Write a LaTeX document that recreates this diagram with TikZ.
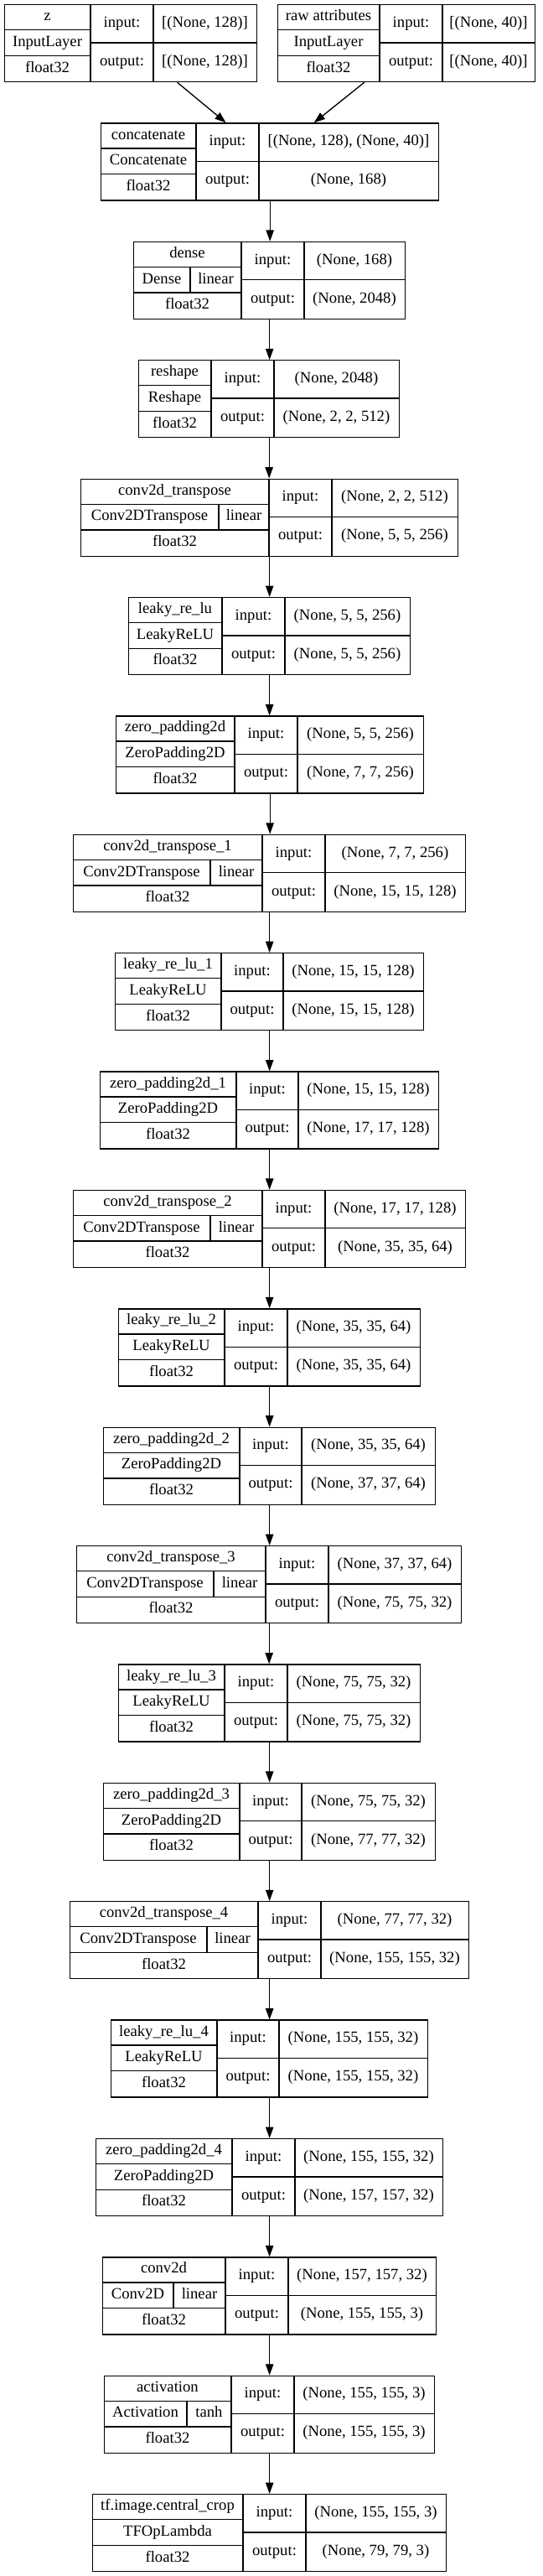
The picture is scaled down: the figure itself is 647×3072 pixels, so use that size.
\documentclass[tikz,border=0pt]{standalone}
\usepackage{fontspec}
\setmainfont{Liberation Serif}
\usetikzlibrary{arrows.meta,calc}

\tikzstyle{layer} = [draw,rectangle,anchor=north west,minimum height=69pt,inner sep=0pt,line width=1pt]
\tikzstyle{cell line} = [draw,line width=1pt]
\tikzstyle{cell text} = [inner sep=0pt,text height=9.5pt,text depth=3pt]
\tikzstyle{edge} = [draw,line width=1pt,-{Triangle[length=10pt,width=7pt]}]

\begin{document}
\begin{tikzpicture}[x=0.75pt,y=-0.75pt,font=\fontsize{14}{16}\selectfont]
  \useasboundingbox (0,0) rectangle (647,3072);
  \fill[white] (0,0) rectangle (647,3072);

  % First we draw the plain layers: name / class / dtype
  \foreach \row/\nm/\xa/\xb/\xc/\xd/\ttl/\cls/\inp/\outp in {
    1/z/5/108/183/306/z/InputLayer/{[(None, 128)]}/{[(None, 128)]},
    1/raw/331/453/528/638/raw attributes/InputLayer/{[(None, 40)]}/{[(None, 40)]},
    2/concat/120/234/309/523/concatenate/Concatenate/{[(None, 128), (None, 40)]}/{(None, 168)},
    4/reshape/165/252/327/476/reshape/Reshape/{(None, 2048)}/{(None, 2, 2, 512)},
    6/lrelu0/153/265/340/489/leaky\_re\_lu/LeakyReLU/{(None, 5, 5, 256)}/{(None, 5, 5, 256)},
    7/zpad0/138/280/355/505/zero\_padding2d/ZeroPadding2D/{(None, 5, 5, 256)}/{(None, 7, 7, 256)},
    9/lrelu1/137/264/338/505/leaky\_re\_lu\_1/LeakyReLU/{(None, 15, 15, 128)}/{(None, 15, 15, 128)},
    10/zpad1/119/282/356/523/zero\_padding2d\_1/ZeroPadding2D/{(None, 15, 15, 128)}/{(None, 17, 17, 128)},
    12/lrelu2/141/268/343/501/leaky\_re\_lu\_2/LeakyReLU/{(None, 35, 35, 64)}/{(None, 35, 35, 64)},
    13/zpad2/123/286/360/519/zero\_padding2d\_2/ZeroPadding2D/{(None, 35, 35, 64)}/{(None, 37, 37, 64)},
    15/lrelu3/141/268/343/501/leaky\_re\_lu\_3/LeakyReLU/{(None, 75, 75, 32)}/{(None, 75, 75, 32)},
    16/zpad3/123/286/360/519/zero\_padding2d\_3/ZeroPadding2D/{(None, 75, 75, 32)}/{(None, 77, 77, 32)},
    18/lrelu4/132/259/333/510/leaky\_re\_lu\_4/LeakyReLU/{(None, 155, 155, 32)}/{(None, 155, 155, 32)},
    19/zpad4/114/277/352/528/zero\_padding2d\_4/ZeroPadding2D/{(None, 155, 155, 32)}/{(None, 157, 157, 32)},
    22/crop/110/290/365/532/tf.image.central\_crop/TFOpLambda/{(None, 155, 155, 3)}/{(None, 79, 79, 3)}}
  {
    \pgfmathsetmacro\ytop{5+(\row-1)*141.38}
    \node[layer,minimum width={(\xd-\xa)*0.75pt}] (\nm) at (\xa,\ytop) {};
    \path[cell line] (\xb,\ytop) -- ++(0,92) (\xc,\ytop) -- ++(0,92)
      (\xa,\ytop+30.67) -- (\xb,\ytop+30.67) (\xa,\ytop+61.33) -- (\xb,\ytop+61.33)
      (\xb,\ytop+46) -- (\xd,\ytop+46);
    \node[cell text] (\nm-name) at ({(\xa+\xb)/2},\ytop+15.33) {\ttl};
    \node[cell text] (\nm-cls) at ({(\xa+\xb)/2},\ytop+46) {\cls};
    \node[cell text] (\nm-dt) at ({(\xa+\xb)/2},\ytop+76.67) {float32};
    \node[cell text] (\nm-in) at ({(\xb+\xc)/2},\ytop+23) {input:};
    \node[cell text] (\nm-inv) at ({(\xc+\xd)/2},\ytop+23) {\inp};
    \node[cell text] (\nm-out) at ({(\xb+\xc)/2},\ytop+69) {output:};
    \node[cell text] (\nm-outv) at ({(\xc+\xd)/2},\ytop+69) {\outp};
  }

  % Then the layers that also carry an activation
  \foreach \row/\nm/\xa/\xs/\xb/\xc/\xd/\ttl/\cls/\act/\inp/\outp in {
    3/dense/159/227/288/363/483/dense/Dense/linear/{(None, 168)}/{(None, 2048)},
    5/convt0/96/261/321/396/546/conv2d\_transpose/Conv2DTranspose/linear/{(None, 2, 2, 512)}/{(None, 5, 5, 256)},
    8/convt1/87/251/313/388/555/conv2d\_transpose\_1/Conv2DTranspose/linear/{(None, 7, 7, 256)}/{(None, 15, 15, 128)},
    11/convt2/87/251/313/388/555/conv2d\_transpose\_2/Conv2DTranspose/linear/{(None, 17, 17, 128)}/{(None, 35, 35, 64)},
    14/convt3/91/255/317/392/550/conv2d\_transpose\_3/Conv2DTranspose/linear/{(None, 37, 37, 64)}/{(None, 75, 75, 32)},
    17/convt4/83/247/308/383/559/conv2d\_transpose\_4/Conv2DTranspose/linear/{(None, 77, 77, 32)}/{(None, 155, 155, 32)},
    20/conv/122/207/269/344/520/conv2d/Conv2D/linear/{(None, 157, 157, 32)}/{(None, 155, 155, 3)},
    21/act/124/223/276/351/518/activation/Activation/tanh/{(None, 155, 155, 3)}/{(None, 155, 155, 3)}}
  {
    \pgfmathsetmacro\ytop{5+(\row-1)*141.38}
    \node[layer,minimum width={(\xd-\xa)*0.75pt}] (\nm) at (\xa,\ytop) {};
    \path[cell line] (\xb,\ytop) -- ++(0,92) (\xc,\ytop) -- ++(0,92)
      (\xa,\ytop+30.67) -- (\xb,\ytop+30.67) (\xa,\ytop+61.33) -- (\xb,\ytop+61.33)
      (\xs,\ytop+30.67) -- (\xs,\ytop+61.33)
      (\xb,\ytop+46) -- (\xd,\ytop+46);
    \node[cell text] (\nm-name) at ({(\xa+\xb)/2},\ytop+15.33) {\ttl};
    \node[cell text] (\nm-cls) at ({(\xa+\xs)/2},\ytop+46) {\cls};
    \node[cell text] (\nm-fn) at ({(\xs+\xb)/2},\ytop+46) {\act};
    \node[cell text] (\nm-dt) at ({(\xa+\xb)/2},\ytop+76.67) {float32};
    \node[cell text] (\nm-in) at ({(\xb+\xc)/2},\ytop+23) {input:};
    \node[cell text] (\nm-inv) at ({(\xc+\xd)/2},\ytop+23) {\inp};
    \node[cell text] (\nm-out) at ({(\xb+\xc)/2},\ytop+69) {output:};
    \node[cell text] (\nm-outv) at ({(\xc+\xd)/2},\ytop+69) {\outp};
  }

  % Connect the layers
  \path[edge] ($(z.south)+(55.5,0)$) -- ($(concat.north)+(-52.5,0)$);
  \path[edge] ($(raw.south)+(-50.5,0)$) -- ($(concat.north)+(52.5,0)$);
  \foreach \src/\dst in {concat/dense, dense/reshape, reshape/convt0, convt0/lrelu0,
    lrelu0/zpad0, zpad0/convt1, convt1/lrelu1, lrelu1/zpad1, zpad1/convt2,
    convt2/lrelu2, lrelu2/zpad2, zpad2/convt3, convt3/lrelu3, lrelu3/zpad3,
    zpad3/convt4, convt4/lrelu4, lrelu4/zpad4, zpad4/conv, conv/act, act/crop}
    \path[edge] (\src.south) -- (\src.south |- \dst.north);
\end{tikzpicture}
\end{document}
